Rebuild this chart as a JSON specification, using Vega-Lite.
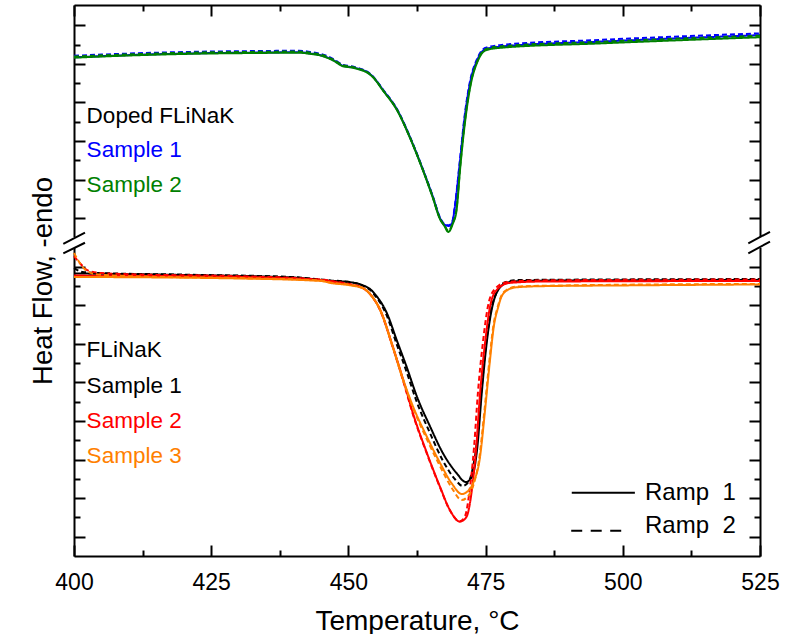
{
  "$schema": "https://vega.github.io/schema/vega-lite/v6.json",
  "width": 686,
  "height": 551,
  "autosize": "none",
  "padding": {"left": 74, "top": 5, "right": 34, "bottom": 78},
  "background": "white",
  "config": {
    "view": {"stroke": null},
    "font": "Liberation Sans",
    "axis": {"domainColor": "black", "domainWidth": 2, "tickColor": "black", "tickWidth": 2, "labelColor": "black", "titleColor": "black", "titleFontWeight": "normal", "labelFont": "Liberation Sans", "titleFont": "Liberation Sans", "grid": false}
  },
  "datasets": {
    "curves": [
      {"s":"D1","r":"R2","t":400,"u":25.92},{"s":"D1","r":"R2","t":405,"u":25.98},{"s":"D1","r":"R2","t":414,"u":26.07},{"s":"D1","r":"R2","t":423,"u":26.13},{"s":"D1","r":"R2","t":432,"u":26.16},{"s":"D1","r":"R2","t":441,"u":26.18},{"s":"D1","r":"R2","t":443,"u":26.12},{"s":"D1","r":"R2","t":444.8,"u":26.03},{"s":"D1","r":"R2","t":447.2,"u":25.76},{"s":"D1","r":"R2","t":449,"u":25.45},{"s":"D1","r":"R2","t":450.8,"u":25.36},{"s":"D1","r":"R2","t":452.1,"u":25.25},{"s":"D1","r":"R2","t":453.4,"u":25.1},{"s":"D1","r":"R2","t":454.5,"u":24.84},{"s":"D1","r":"R2","t":456.3,"u":24.17},{"s":"D1","r":"R2","t":458.9,"u":23.13},{"s":"D1","r":"R2","t":461.2,"u":21.73},{"s":"D1","r":"R2","t":463.6,"u":20.02},{"s":"D1","r":"R2","t":465.4,"u":18.62},{"s":"D1","r":"R2","t":466.7,"u":17.53},{"s":"D1","r":"R2","t":467.6,"u":17.18},{"s":"D1","r":"R2","t":468.3,"u":17.14},{"s":"D1","r":"R2","t":468.9,"u":17.3},{"s":"D1","r":"R2","t":469.4,"u":18.15},{"s":"D1","r":"R2","t":470.3,"u":20.45},{"s":"D1","r":"R2","t":471.2,"u":22.85},{"s":"D1","r":"R2","t":472.2,"u":24.65},{"s":"D1","r":"R2","t":473.4,"u":25.72},{"s":"D1","r":"R2","t":474.9,"u":26.32},{"s":"D1","r":"R2","t":477.6,"u":26.47},{"s":"D1","r":"R2","t":495.8,"u":26.74},{"s":"D1","r":"R2","t":525,"u":27.08},
      {"s":"D1","r":"R1","t":400,"u":25.84},{"s":"D1","r":"R1","t":405,"u":25.9},{"s":"D1","r":"R1","t":414,"u":25.99},{"s":"D1","r":"R1","t":423,"u":26.05},{"s":"D1","r":"R1","t":432,"u":26.08},{"s":"D1","r":"R1","t":441,"u":26.1},{"s":"D1","r":"R1","t":443,"u":26.04},{"s":"D1","r":"R1","t":444.8,"u":25.96},{"s":"D1","r":"R1","t":447.2,"u":25.7},{"s":"D1","r":"R1","t":449,"u":25.4},{"s":"D1","r":"R1","t":450.8,"u":25.32},{"s":"D1","r":"R1","t":452.1,"u":25.22},{"s":"D1","r":"R1","t":453.4,"u":25.08},{"s":"D1","r":"R1","t":454.5,"u":24.82},{"s":"D1","r":"R1","t":456.3,"u":24.15},{"s":"D1","r":"R1","t":458.9,"u":23.11},{"s":"D1","r":"R1","t":461.2,"u":21.71},{"s":"D1","r":"R1","t":463.6,"u":20.0},{"s":"D1","r":"R1","t":465.4,"u":18.6},{"s":"D1","r":"R1","t":466.7,"u":17.51},{"s":"D1","r":"R1","t":467.6,"u":17.15},{"s":"D1","r":"R1","t":468.3,"u":17.1},{"s":"D1","r":"R1","t":468.9,"u":17.25},{"s":"D1","r":"R1","t":469.4,"u":18.08},{"s":"D1","r":"R1","t":470.3,"u":20.36},{"s":"D1","r":"R1","t":471.2,"u":22.75},{"s":"D1","r":"R1","t":472.2,"u":24.56},{"s":"D1","r":"R1","t":473.4,"u":25.65},{"s":"D1","r":"R1","t":474.9,"u":26.25},{"s":"D1","r":"R1","t":477.6,"u":26.39},{"s":"D1","r":"R1","t":495.8,"u":26.65},{"s":"D1","r":"R1","t":525,"u":26.99},
      {"s":"D2","r":"R2","t":400,"u":25.88},{"s":"D2","r":"R2","t":405,"u":25.94},{"s":"D2","r":"R2","t":414,"u":26.03},{"s":"D2","r":"R2","t":423,"u":26.09},{"s":"D2","r":"R2","t":432,"u":26.12},{"s":"D2","r":"R2","t":441,"u":26.14},{"s":"D2","r":"R2","t":443,"u":26.08},{"s":"D2","r":"R2","t":444.8,"u":26.0},{"s":"D2","r":"R2","t":447.2,"u":25.73},{"s":"D2","r":"R2","t":449,"u":25.43},{"s":"D2","r":"R2","t":450.8,"u":25.34},{"s":"D2","r":"R2","t":452.1,"u":25.23},{"s":"D2","r":"R2","t":453.4,"u":25.08},{"s":"D2","r":"R2","t":454.5,"u":24.82},{"s":"D2","r":"R2","t":456.3,"u":24.14},{"s":"D2","r":"R2","t":458.9,"u":23.1},{"s":"D2","r":"R2","t":461.2,"u":21.7},{"s":"D2","r":"R2","t":463.6,"u":19.99},{"s":"D2","r":"R2","t":465.4,"u":18.58},{"s":"D2","r":"R2","t":466.7,"u":17.48},{"s":"D2","r":"R2","t":467.5,"u":17.13},{"s":"D2","r":"R2","t":468.2,"u":16.85},{"s":"D2","r":"R2","t":469,"u":17.25},{"s":"D2","r":"R2","t":469.7,"u":18.0},{"s":"D2","r":"R2","t":470.4,"u":20.3},{"s":"D2","r":"R2","t":471.3,"u":22.7},{"s":"D2","r":"R2","t":472.3,"u":24.52},{"s":"D2","r":"R2","t":473.5,"u":25.65},{"s":"D2","r":"R2","t":475,"u":26.26},{"s":"D2","r":"R2","t":477.6,"u":26.4},{"s":"D2","r":"R2","t":495.8,"u":26.64},{"s":"D2","r":"R2","t":525,"u":26.96},
      {"s":"D2","r":"R1","t":400,"u":25.82},{"s":"D2","r":"R1","t":405,"u":25.88},{"s":"D2","r":"R1","t":414,"u":25.97},{"s":"D2","r":"R1","t":423,"u":26.03},{"s":"D2","r":"R1","t":432,"u":26.06},{"s":"D2","r":"R1","t":441,"u":26.08},{"s":"D2","r":"R1","t":443,"u":26.02},{"s":"D2","r":"R1","t":444.8,"u":25.94},{"s":"D2","r":"R1","t":447.2,"u":25.68},{"s":"D2","r":"R1","t":449,"u":25.38},{"s":"D2","r":"R1","t":450.8,"u":25.3},{"s":"D2","r":"R1","t":452.1,"u":25.2},{"s":"D2","r":"R1","t":453.4,"u":25.05},{"s":"D2","r":"R1","t":454.5,"u":24.8},{"s":"D2","r":"R1","t":456.3,"u":24.12},{"s":"D2","r":"R1","t":458.9,"u":23.08},{"s":"D2","r":"R1","t":461.2,"u":21.68},{"s":"D2","r":"R1","t":463.6,"u":19.97},{"s":"D2","r":"R1","t":465.4,"u":18.55},{"s":"D2","r":"R1","t":466.7,"u":17.45},{"s":"D2","r":"R1","t":467.5,"u":17.1},{"s":"D2","r":"R1","t":468.2,"u":16.79},{"s":"D2","r":"R1","t":469,"u":17.2},{"s":"D2","r":"R1","t":469.7,"u":17.9},{"s":"D2","r":"R1","t":470.4,"u":20.2},{"s":"D2","r":"R1","t":471.3,"u":22.6},{"s":"D2","r":"R1","t":472.3,"u":24.45},{"s":"D2","r":"R1","t":473.5,"u":25.6},{"s":"D2","r":"R1","t":475,"u":26.2},{"s":"D2","r":"R1","t":477.6,"u":26.33},{"s":"D2","r":"R1","t":495.8,"u":26.56},{"s":"D2","r":"R1","t":525,"u":26.88},
      {"s":"F1","r":"R1","t":400,"u":14.64},{"s":"F1","r":"R1","t":420,"u":14.56},{"s":"F1","r":"R1","t":440,"u":14.43},{"s":"F1","r":"R1","t":446.7,"u":14.26},{"s":"F1","r":"R1","t":450.3,"u":14.19},{"s":"F1","r":"R1","t":452.7,"u":14.02},{"s":"F1","r":"R1","t":454,"u":13.82},{"s":"F1","r":"R1","t":455.2,"u":13.44},{"s":"F1","r":"R1","t":456.3,"u":12.98},{"s":"F1","r":"R1","t":457,"u":12.59},{"s":"F1","r":"R1","t":458.8,"u":11.19},{"s":"F1","r":"R1","t":460.6,"u":9.81},{"s":"F1","r":"R1","t":462.5,"u":8.25},{"s":"F1","r":"R1","t":464.9,"u":6.7},{"s":"F1","r":"R1","t":467.2,"u":5.34},{"s":"F1","r":"R1","t":469.7,"u":4.3},{"s":"F1","r":"R1","t":471.4,"u":3.83},{"s":"F1","r":"R1","t":472.4,"u":4.05},{"s":"F1","r":"R1","t":473,"u":4.6},{"s":"F1","r":"R1","t":473.5,"u":5.65},{"s":"F1","r":"R1","t":474.3,"u":8.45},{"s":"F1","r":"R1","t":475.2,"u":11.04},{"s":"F1","r":"R1","t":476.1,"u":12.75},{"s":"F1","r":"R1","t":477,"u":13.63},{"s":"F1","r":"R1","t":478.8,"u":14.15},{"s":"F1","r":"R1","t":481,"u":14.24},{"s":"F1","r":"R1","t":490,"u":14.28},{"s":"F1","r":"R1","t":525,"u":14.3},
      {"s":"F1","r":"R2","t":400,"u":14.92},{"s":"F1","r":"R2","t":401.5,"u":14.72},{"s":"F1","r":"R2","t":405,"u":14.66},{"s":"F1","r":"R2","t":420,"u":14.58},{"s":"F1","r":"R2","t":440,"u":14.45},{"s":"F1","r":"R2","t":446.7,"u":14.28},{"s":"F1","r":"R2","t":450.3,"u":14.19},{"s":"F1","r":"R2","t":452.7,"u":14.0},{"s":"F1","r":"R2","t":454,"u":13.78},{"s":"F1","r":"R2","t":455.2,"u":13.36},{"s":"F1","r":"R2","t":456.3,"u":12.88},{"s":"F1","r":"R2","t":457,"u":12.45},{"s":"F1","r":"R2","t":458.8,"u":10.98},{"s":"F1","r":"R2","t":460.6,"u":9.55},{"s":"F1","r":"R2","t":462.5,"u":7.95},{"s":"F1","r":"R2","t":464.9,"u":6.35},{"s":"F1","r":"R2","t":467.2,"u":4.95},{"s":"F1","r":"R2","t":469.5,"u":3.95},{"s":"F1","r":"R2","t":470.8,"u":3.63},{"s":"F1","r":"R2","t":471.9,"u":3.85},{"s":"F1","r":"R2","t":472.7,"u":4.6},{"s":"F1","r":"R2","t":473.3,"u":5.65},{"s":"F1","r":"R2","t":474.2,"u":8.45},{"s":"F1","r":"R2","t":475.1,"u":11.04},{"s":"F1","r":"R2","t":476,"u":12.75},{"s":"F1","r":"R2","t":477,"u":13.65},{"s":"F1","r":"R2","t":478.7,"u":14.2},{"s":"F1","r":"R2","t":481,"u":14.3},{"s":"F1","r":"R2","t":525,"u":14.35},
      {"s":"F2","r":"R1","t":400,"u":14.53},{"s":"F2","r":"R1","t":430,"u":14.46},{"s":"F2","r":"R1","t":445,"u":14.3},{"s":"F2","r":"R1","t":448,"u":14.18},{"s":"F2","r":"R1","t":450.5,"u":14.05},{"s":"F2","r":"R1","t":452.7,"u":13.87},{"s":"F2","r":"R1","t":454.3,"u":13.45},{"s":"F2","r":"R1","t":455.8,"u":12.75},{"s":"F2","r":"R1","t":458.1,"u":10.84},{"s":"F2","r":"R1","t":460,"u":9.12},{"s":"F2","r":"R1","t":461.8,"u":7.36},{"s":"F2","r":"R1","t":464.3,"u":5.34},{"s":"F2","r":"R1","t":466.7,"u":3.58},{"s":"F2","r":"R1","t":468.5,"u":2.38},{"s":"F2","r":"R1","t":470.3,"u":1.78},{"s":"F2","r":"R1","t":471.5,"u":2.02},{"s":"F2","r":"R1","t":472.4,"u":3.21},{"s":"F2","r":"R1","t":473.3,"u":5.65},{"s":"F2","r":"R1","t":474,"u":8.45},{"s":"F2","r":"R1","t":474.9,"u":11.04},{"s":"F2","r":"R1","t":475.8,"u":12.9},{"s":"F2","r":"R1","t":477,"u":13.78},{"s":"F2","r":"R1","t":479.4,"u":14.15},{"s":"F2","r":"R1","t":485,"u":14.22},{"s":"F2","r":"R1","t":525,"u":14.25},
      {"s":"F2","r":"R2","t":400,"u":15.54},{"s":"F2","r":"R2","t":401,"u":15.2},{"s":"F2","r":"R2","t":402.5,"u":14.8},{"s":"F2","r":"R2","t":405,"u":14.66},{"s":"F2","r":"R2","t":410,"u":14.6},{"s":"F2","r":"R2","t":430,"u":14.5},{"s":"F2","r":"R2","t":445,"u":14.32},{"s":"F2","r":"R2","t":448,"u":14.2},{"s":"F2","r":"R2","t":450.5,"u":14.07},{"s":"F2","r":"R2","t":452.7,"u":13.88},{"s":"F2","r":"R2","t":454.3,"u":13.45},{"s":"F2","r":"R2","t":455.8,"u":12.72},{"s":"F2","r":"R2","t":458.1,"u":10.8},{"s":"F2","r":"R2","t":460,"u":9.05},{"s":"F2","r":"R2","t":461.8,"u":7.3},{"s":"F2","r":"R2","t":464.3,"u":5.3},{"s":"F2","r":"R2","t":466.7,"u":3.55},{"s":"F2","r":"R2","t":468.5,"u":2.36},{"s":"F2","r":"R2","t":470.3,"u":1.8},{"s":"F2","r":"R2","t":471.3,"u":2.1},{"s":"F2","r":"R2","t":472,"u":3.21},{"s":"F2","r":"R2","t":472.9,"u":5.65},{"s":"F2","r":"R2","t":473.6,"u":8.45},{"s":"F2","r":"R2","t":474.5,"u":11.04},{"s":"F2","r":"R2","t":475.4,"u":12.9},{"s":"F2","r":"R2","t":476.6,"u":13.8},{"s":"F2","r":"R2","t":479,"u":14.2},{"s":"F2","r":"R2","t":485,"u":14.28},{"s":"F2","r":"R2","t":525,"u":14.33},
      {"s":"F3","r":"R1","t":400,"u":14.46},{"s":"F3","r":"R1","t":430,"u":14.38},{"s":"F3","r":"R1","t":445,"u":14.25},{"s":"F3","r":"R1","t":446.7,"u":14.15},{"s":"F3","r":"R1","t":450.5,"u":14.02},{"s":"F3","r":"R1","t":452.7,"u":13.87},{"s":"F3","r":"R1","t":454.3,"u":13.45},{"s":"F3","r":"R1","t":455.8,"u":12.75},{"s":"F3","r":"R1","t":458.1,"u":10.84},{"s":"F3","r":"R1","t":460,"u":9.12},{"s":"F3","r":"R1","t":461.8,"u":7.73},{"s":"F3","r":"R1","t":464.3,"u":6.18},{"s":"F3","r":"R1","t":466.7,"u":4.82},{"s":"F3","r":"R1","t":468.9,"u":3.73},{"s":"F3","r":"R1","t":470.65,"u":3.21},{"s":"F3","r":"R1","t":471.8,"u":3.37},{"s":"F3","r":"R1","t":472.9,"u":3.9},{"s":"F3","r":"R1","t":473.9,"u":4.97},{"s":"F3","r":"R1","t":474.9,"u":7.56},{"s":"F3","r":"R1","t":475.8,"u":10.15},{"s":"F3","r":"R1","t":476.5,"u":11.9},{"s":"F3","r":"R1","t":477.3,"u":12.9},{"s":"F3","r":"R1","t":477.9,"u":13.44},{"s":"F3","r":"R1","t":479,"u":13.78},{"s":"F3","r":"R1","t":480.5,"u":13.92},{"s":"F3","r":"R1","t":485,"u":13.98},{"s":"F3","r":"R1","t":500,"u":14.02},{"s":"F3","r":"R1","t":525,"u":14.07},
      {"s":"F3","r":"R2","t":400,"u":15.7},{"s":"F3","r":"R2","t":400.8,"u":15.3},{"s":"F3","r":"R2","t":402,"u":14.85},{"s":"F3","r":"R2","t":404,"u":14.6},{"s":"F3","r":"R2","t":410,"u":14.5},{"s":"F3","r":"R2","t":430,"u":14.4},{"s":"F3","r":"R2","t":445,"u":14.27},{"s":"F3","r":"R2","t":446.7,"u":14.17},{"s":"F3","r":"R2","t":450.5,"u":14.04},{"s":"F3","r":"R2","t":452.7,"u":13.88},{"s":"F3","r":"R2","t":454.3,"u":13.45},{"s":"F3","r":"R2","t":455.8,"u":12.73},{"s":"F3","r":"R2","t":458.1,"u":10.8},{"s":"F3","r":"R2","t":460,"u":9.08},{"s":"F3","r":"R2","t":461.8,"u":7.65},{"s":"F3","r":"R2","t":464.3,"u":6.05},{"s":"F3","r":"R2","t":466.7,"u":4.65},{"s":"F3","r":"R2","t":468.9,"u":3.5},{"s":"F3","r":"R2","t":470.65,"u":2.9},{"s":"F3","r":"R2","t":471.8,"u":3.1},{"s":"F3","r":"R2","t":472.8,"u":3.7},{"s":"F3","r":"R2","t":473.8,"u":4.97},{"s":"F3","r":"R2","t":474.8,"u":7.56},{"s":"F3","r":"R2","t":475.7,"u":10.15},{"s":"F3","r":"R2","t":476.4,"u":11.9},{"s":"F3","r":"R2","t":477.2,"u":12.9},{"s":"F3","r":"R2","t":477.8,"u":13.44},{"s":"F3","r":"R2","t":478.9,"u":13.8},{"s":"F3","r":"R2","t":480.5,"u":13.95},{"s":"F3","r":"R2","t":485,"u":14.0},{"s":"F3","r":"R2","t":525,"u":14.1}
    ],
    "labels": [
      {"txt":"Doped FLiNaK","s":"Title","t":402.3,"u":22.45},
      {"txt":"Sample 1","s":"D1","t":402.3,"u":20.69},
      {"txt":"Sample 2","s":"D2","t":402.3,"u":18.88},
      {"txt":"FLiNaK","s":"Title","t":402.3,"u":10.3},
      {"txt":"Sample 1","s":"F1","t":402.3,"u":8.46},
      {"txt":"Sample 2","s":"F2","t":402.3,"u":6.62},
      {"txt":"Sample 3","s":"F3","t":402.3,"u":4.83}
    ],
    "legend": [
      {"r":"R1","txt":"Ramp\u00a0\u00a01","t1":490.7,"t2":502.2,"t3":504.05,"u":3.28,"ub":2.9},
      {"r":"R2","txt":"Ramp\u00a0\u00a02","t1":490.6,"t2":500.0,"t3":504.05,"u":1.31,"ub":1.19}
    ],
    "gaps": [
      {"t":400,"u1":15.96,"u2":16.53},
      {"t":525,"u1":15.96,"u2":16.53}
    ],
    "breaks": [
      {"t1":398.05,"u1":16.17,"t2":402.0,"u2":16.75},
      {"t1":398.05,"u1":15.68,"t2":402.0,"u2":16.23},
      {"t1":522.87,"u1":16.2,"t2":526.82,"u2":16.8},
      {"t1":522.87,"u1":15.68,"t2":526.82,"u2":16.29}
    ]
  },
  "resolve": {"axis": {"x": "independent", "y": "independent"}},
  "layer": [
    {
      "data": {"name": "curves"},
      "mark": {"type": "line", "strokeWidth": 2, "interpolate": "monotone"},
      "encoding": {
        "x": {"field": "t", "type": "quantitative", "scale": {"domain": [400, 525], "nice": false, "zero": false},
          "axis": {"orient": "bottom", "values": [400, 412.5, 425, 437.5, 450, 462.5, 475, 487.5, 500, 512.5, 525],
            "tickSize": {"condition": {"test": "datum.value % 25 === 0", "value": -11}, "value": -6},
            "labelExpr": "datum.value % 25 === 0 ? datum.label : ''", "labelFontSize": 23, "labelPadding": 26, "labelFlush": false, "labelOverlap": false,
            "title": "Temperature, °C", "titleFontSize": 28, "titleY": 73, "titleBaseline": "alphabetic"}},
        "y": {"field": "u", "type": "quantitative", "scale": {"domain": [0, 28.55], "nice": false, "zero": false},
          "axis": {"orient": "left", "values": [1, 2, 3, 4, 5, 6, 7, 8, 9, 10, 11, 12, 13, 14, 15, 17.5, 18.5, 19.5, 20.5, 21.5, 22.5, 23.5, 24.5, 25.5, 26.5, 27.5],
            "tickSize": {"condition": {"test": "floor(datum.value) % 2 === 1", "value": -11}, "value": -6},
            "labels": false, "title": "Heat Flow, -endo", "titleFontSize": 27.5, "titleX": -23, "titleY": 275.5, "titleAngle": -90, "titleBaseline": "alphabetic", "titleAlign": "center"}},
        "color": {"field": "s", "type": "nominal", "legend": null,
          "scale": {"domain": ["D1", "D2", "F1", "F2", "F3", "Title"], "range": ["#0000ff", "#008000", "#000000", "#ff0000", "#ff8000", "#000000"]}},
        "strokeDash": {"field": "r", "type": "nominal", "legend": null,
          "scale": {"domain": ["R1", "R2"], "range": [[1, 0], [5, 3]]}}
      }
    },
    {
      "data": {"name": "labels"},
      "mark": {"type": "text", "align": "left", "baseline": "alphabetic", "fontSize": 22.5, "font": "Liberation Sans"},
      "encoding": {
        "x": {"field": "t", "type": "quantitative", "scale": {"domain": [400, 525], "nice": false, "zero": false}, "axis": null},
        "y": {"field": "u", "type": "quantitative", "scale": {"domain": [0, 28.55], "nice": false, "zero": false}, "axis": null},
        "text": {"field": "txt"},
        "color": {"field": "s", "type": "nominal", "legend": null}
      }
    },
    {
      "data": {"name": "legend"},
      "transform": [{"filter": "datum.r === 'R1'"}],
      "mark": {"type": "rule", "color": "black", "strokeWidth": 2},
      "encoding": {
        "x": {"field": "t1", "type": "quantitative", "scale": {"domain": [400, 525], "nice": false, "zero": false}, "axis": null},
        "x2": {"field": "t2"},
        "y": {"field": "u", "type": "quantitative", "scale": {"domain": [0, 28.55], "nice": false, "zero": false}, "axis": null}
      }
    },
    {
      "data": {"name": "legend"},
      "transform": [{"filter": "datum.r === 'R2'"}],
      "mark": {"type": "rule", "color": "black", "strokeWidth": 2, "strokeDash": [11, 8.5]},
      "encoding": {
        "x": {"field": "t1", "type": "quantitative", "scale": {"domain": [400, 525], "nice": false, "zero": false}, "axis": null},
        "x2": {"field": "t2"},
        "y": {"field": "u", "type": "quantitative", "scale": {"domain": [0, 28.55], "nice": false, "zero": false}, "axis": null}
      }
    },
    {
      "data": {"name": "legend"},
      "mark": {"type": "text", "align": "left", "baseline": "alphabetic", "fontSize": 24, "font": "Liberation Sans", "color": "black"},
      "encoding": {
        "x": {"field": "t3", "type": "quantitative", "scale": {"domain": [400, 525], "nice": false, "zero": false}, "axis": null},
        "y": {"field": "ub", "type": "quantitative", "scale": {"domain": [0, 28.55], "nice": false, "zero": false}, "axis": null},
        "text": {"field": "txt"}
      }
    },
    {
      "data": {"name": "gaps"},
      "mark": {"type": "rule", "color": "white", "strokeWidth": 5},
      "encoding": {
        "x": {"field": "t", "type": "quantitative", "scale": {"domain": [400, 525], "nice": false, "zero": false}, "axis": null},
        "y": {"field": "u1", "type": "quantitative", "scale": {"domain": [0, 28.55], "nice": false, "zero": false}, "axis": null},
        "y2": {"field": "u2"}
      }
    },
    {
      "data": {"name": "breaks"},
      "mark": {"type": "rule", "color": "black", "strokeWidth": 2},
      "encoding": {
        "x": {"field": "t1", "type": "quantitative", "scale": {"domain": [400, 525], "nice": false, "zero": false},
          "axis": {"orient": "top", "values": [400, 412.5, 425, 437.5, 450, 462.5, 475, 487.5, 500, 512.5, 525],
            "tickSize": {"condition": {"test": "datum.value % 25 === 0", "value": -11}, "value": -6},
            "labels": false, "title": null}},
        "x2": {"field": "t2"},
        "y": {"field": "u1", "type": "quantitative", "scale": {"domain": [0, 28.55], "nice": false, "zero": false},
          "axis": {"orient": "right", "values": [1, 2, 3, 4, 5, 6, 7, 8, 9, 10, 11, 12, 13, 14, 15, 17.5, 18.5, 19.5, 20.5, 21.5, 22.5, 23.5, 24.5, 25.5, 26.5, 27.5],
            "tickSize": {"condition": {"test": "floor(datum.value) % 2 === 1", "value": -11}, "value": -6},
            "labels": false, "title": null}},
        "y2": {"field": "u2"}
      }
    }
  ]
}
